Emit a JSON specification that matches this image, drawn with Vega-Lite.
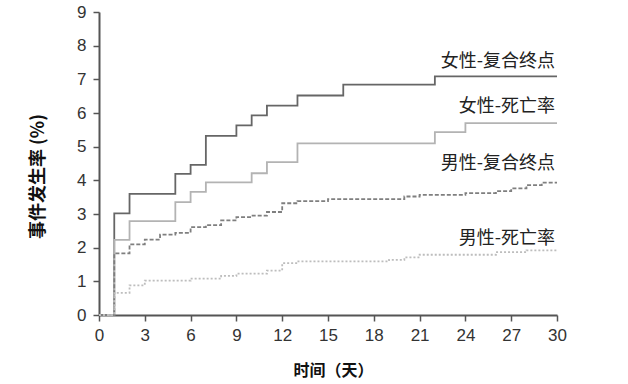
{
  "$schema": "https://vega.github.io/schema/vega-lite/v6.json",
  "width": 458,
  "height": 303,
  "autosize": {"type": "none"},
  "padding": {"left": 99, "top": 12, "right": 71, "bottom": 69},
  "background": "white",
  "config": {"view": {"stroke": null}, "font": "Liberation Sans"},
  "datasets": {
    "curves": [
      {"series": "女性-复合终点", "day": 0, "value": 0},
      {"series": "女性-复合终点", "day": 1, "value": 3.02},
      {"series": "女性-复合终点", "day": 2, "value": 3.6},
      {"series": "女性-复合终点", "day": 5, "value": 4.19},
      {"series": "女性-复合终点", "day": 6, "value": 4.46},
      {"series": "女性-复合终点", "day": 7, "value": 5.32},
      {"series": "女性-复合终点", "day": 9, "value": 5.63},
      {"series": "女性-复合终点", "day": 10, "value": 5.93},
      {"series": "女性-复合终点", "day": 11, "value": 6.22},
      {"series": "女性-复合终点", "day": 13, "value": 6.52},
      {"series": "女性-复合终点", "day": 16, "value": 6.84},
      {"series": "女性-复合终点", "day": 22, "value": 7.09},
      {"series": "女性-复合终点", "day": 30, "value": 7.09},
      {"series": "女性-死亡率", "day": 0, "value": 0},
      {"series": "女性-死亡率", "day": 1, "value": 2.23},
      {"series": "女性-死亡率", "day": 2, "value": 2.79},
      {"series": "女性-死亡率", "day": 5, "value": 3.35},
      {"series": "女性-死亡率", "day": 6, "value": 3.66},
      {"series": "女性-死亡率", "day": 7, "value": 3.94},
      {"series": "女性-死亡率", "day": 10, "value": 4.21},
      {"series": "女性-死亡率", "day": 11, "value": 4.54},
      {"series": "女性-死亡率", "day": 13, "value": 5.1},
      {"series": "女性-死亡率", "day": 22, "value": 5.43},
      {"series": "女性-死亡率", "day": 24, "value": 5.7},
      {"series": "女性-死亡率", "day": 30, "value": 5.7},
      {"series": "男性-复合终点", "day": 0, "value": 0},
      {"series": "男性-复合终点", "day": 1, "value": 1.83},
      {"series": "男性-复合终点", "day": 2, "value": 2.1},
      {"series": "男性-复合终点", "day": 3, "value": 2.24},
      {"series": "男性-复合终点", "day": 4, "value": 2.39},
      {"series": "男性-复合终点", "day": 5, "value": 2.44},
      {"series": "男性-复合终点", "day": 6, "value": 2.61},
      {"series": "男性-复合终点", "day": 7, "value": 2.67},
      {"series": "男性-复合终点", "day": 8, "value": 2.81},
      {"series": "男性-复合终点", "day": 9, "value": 2.91},
      {"series": "男性-复合终点", "day": 10, "value": 2.95},
      {"series": "男性-复合终点", "day": 11, "value": 3.06},
      {"series": "男性-复合终点", "day": 12, "value": 3.32},
      {"series": "男性-复合终点", "day": 13, "value": 3.38},
      {"series": "男性-复合终点", "day": 15, "value": 3.44},
      {"series": "男性-复合终点", "day": 20, "value": 3.52},
      {"series": "男性-复合终点", "day": 21, "value": 3.57},
      {"series": "男性-复合终点", "day": 24, "value": 3.62},
      {"series": "男性-复合终点", "day": 26, "value": 3.68},
      {"series": "男性-复合终点", "day": 27, "value": 3.76},
      {"series": "男性-复合终点", "day": 28, "value": 3.86},
      {"series": "男性-复合终点", "day": 29, "value": 3.93},
      {"series": "男性-复合终点", "day": 30, "value": 3.93},
      {"series": "男性-死亡率", "day": 0, "value": 0},
      {"series": "男性-死亡率", "day": 1, "value": 0.66},
      {"series": "男性-死亡率", "day": 2, "value": 0.88},
      {"series": "男性-死亡率", "day": 3, "value": 1.02},
      {"series": "男性-死亡率", "day": 6, "value": 1.08},
      {"series": "男性-死亡率", "day": 8, "value": 1.16},
      {"series": "男性-死亡率", "day": 9, "value": 1.23},
      {"series": "男性-死亡率", "day": 11, "value": 1.32},
      {"series": "男性-死亡率", "day": 12, "value": 1.54},
      {"series": "男性-死亡率", "day": 13, "value": 1.59},
      {"series": "男性-死亡率", "day": 19, "value": 1.64},
      {"series": "男性-死亡率", "day": 20, "value": 1.71},
      {"series": "男性-死亡率", "day": 21, "value": 1.79},
      {"series": "男性-死亡率", "day": 26, "value": 1.87},
      {"series": "男性-死亡率", "day": 28, "value": 1.92},
      {"series": "男性-死亡率", "day": 30, "value": 1.92}
    ],
    "labels": [
      {"series": "女性-复合终点", "day": 30, "value": 7.52},
      {"series": "女性-死亡率", "day": 30, "value": 6.18},
      {"series": "男性-复合终点", "day": 30, "value": 4.49},
      {"series": "男性-死亡率", "day": 30, "value": 2.25}
    ]
  },
  "layer": [
    {
      "data": {"name": "curves"},
      "mark": {"type": "line", "interpolate": "step-after", "strokeWidth": 1.8},
      "encoding": {
        "x": {
          "field": "day",
          "type": "quantitative",
          "scale": {"domain": [0, 30], "nice": false},
          "axis": {
            "values": [0, 3, 6, 9, 12, 15, 18, 21, 24, 27, 30],
            "title": "时间（天）",
            "titleFont": "Noto Sans CJK SC",
            "titleFontWeight": "bold",
            "titleFontSize": 16,
            "titleColor": "#111",
            "titleX": 234,
            "titleY": 55,
            "titleBaseline": "middle",
            "titleAlign": "center",
            "grid": false,
            "domainColor": "#555",
            "domainWidth": 2,
            "tickColor": "#555",
            "tickWidth": 1.5,
            "tickSize": 6,
            "labelFont": "Liberation Sans",
            "labelFontSize": 17,
            "labelColor": "#333",
            "labelPadding": 6,
            "labelFlush": false,
            "labelOverlap": false
          }
        },
        "y": {
          "field": "value",
          "type": "quantitative",
          "scale": {"domain": [0, 9], "nice": false},
          "axis": {
            "values": [0, 1, 2, 3, 4, 5, 6, 7, 8, 9],
            "title": "事件发生率 (%)",
            "titleFont": "Noto Sans CJK SC",
            "titleFontWeight": "bold",
            "titleFontSize": 18,
            "titleColor": "#111",
            "titleAngle": -90,
            "titleX": -61,
            "titleY": 164,
            "titleBaseline": "middle",
            "titleAlign": "center",
            "grid": false,
            "domainColor": "#555",
            "domainWidth": 2,
            "tickColor": "#555",
            "tickWidth": 1.5,
            "tickSize": 6,
            "labelFont": "Liberation Sans",
            "labelFontSize": 17,
            "labelColor": "#333",
            "labelPadding": 7,
            "labelFlush": false,
            "labelOverlap": false
          }
        },
        "color": {
          "field": "series",
          "type": "nominal",
          "scale": {
            "domain": ["男性-死亡率", "男性-复合终点", "女性-死亡率", "女性-复合终点"],
            "range": ["#bdbdbd", "#7f7f7f", "#b3b3b3", "#666666"]
          },
          "legend": null
        },
        "strokeDash": {
          "field": "series",
          "type": "nominal",
          "scale": {
            "domain": ["男性-死亡率", "男性-复合终点", "女性-死亡率", "女性-复合终点"],
            "range": [[2, 2], [4, 2], [1, 0], [1, 0]]
          },
          "legend": null
        }
      }
    },
    {
      "data": {"name": "labels"},
      "mark": {
        "type": "text",
        "font": "Noto Sans CJK SC",
        "fontSize": 18,
        "align": "right",
        "baseline": "middle",
        "dx": -2,
        "color": "#222"
      },
      "encoding": {
        "x": {
          "field": "day",
          "type": "quantitative",
          "scale": {"domain": [0, 30], "nice": false},
          "axis": {
            "values": [0, 3, 6, 9, 12, 15, 18, 21, 24, 27, 30],
            "title": "时间（天）",
            "titleFont": "Noto Sans CJK SC",
            "titleFontWeight": "bold",
            "titleFontSize": 16,
            "titleColor": "#111",
            "titleX": 234,
            "titleY": 55,
            "titleBaseline": "middle",
            "titleAlign": "center",
            "grid": false,
            "domainColor": "#555",
            "domainWidth": 2,
            "tickColor": "#555",
            "tickWidth": 1.5,
            "tickSize": 6,
            "labelFont": "Liberation Sans",
            "labelFontSize": 17,
            "labelColor": "#333",
            "labelPadding": 6,
            "labelFlush": false,
            "labelOverlap": false
          }
        },
        "y": {
          "field": "value",
          "type": "quantitative",
          "scale": {"domain": [0, 9], "nice": false},
          "axis": {
            "values": [0, 1, 2, 3, 4, 5, 6, 7, 8, 9],
            "title": "事件发生率 (%)",
            "titleFont": "Noto Sans CJK SC",
            "titleFontWeight": "bold",
            "titleFontSize": 18,
            "titleColor": "#111",
            "titleAngle": -90,
            "titleX": -61,
            "titleY": 164,
            "titleBaseline": "middle",
            "titleAlign": "center",
            "grid": false,
            "domainColor": "#555",
            "domainWidth": 2,
            "tickColor": "#555",
            "tickWidth": 1.5,
            "tickSize": 6,
            "labelFont": "Liberation Sans",
            "labelFontSize": 17,
            "labelColor": "#333",
            "labelPadding": 7,
            "labelFlush": false,
            "labelOverlap": false
          }
        },
        "text": {"field": "series"}
      }
    }
  ]
}
